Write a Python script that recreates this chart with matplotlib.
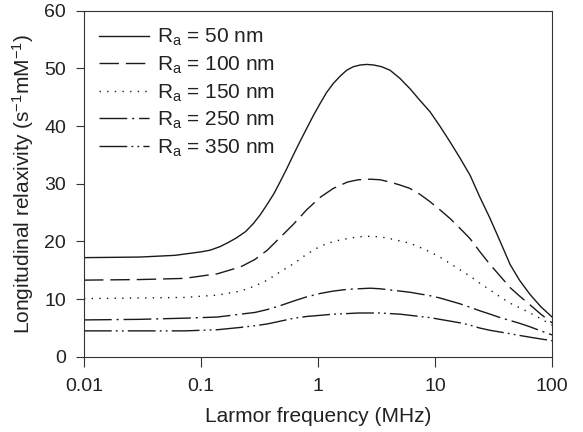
import matplotlib
matplotlib.use("Agg")
import matplotlib.pyplot as plt

# ================= DATA =================

f50 = [0.01, 0.03, 0.06, 0.1, 0.12, 0.145, 0.17, 0.2, 0.24, 0.28, 0.32,
       0.364, 0.42, 0.473, 0.54, 0.615, 0.7, 0.8, 0.91, 1.04, 1.18, 1.35,
       1.55, 1.76, 2.0, 2.29, 2.6, 3.0, 3.5, 4.12, 5.0, 6.1, 7.4, 9.05, 11,
       13.4, 16.3, 19.9, 24, 29.5, 36, 43.8, 53, 64.9, 80, 100]
r50 = [17.2, 17.3, 17.6, 18.2, 18.5, 19.1, 19.8, 20.6, 21.7, 23.1, 24.6,
       26.3, 28.3, 30.3, 32.6, 35.0, 37.3, 39.6, 41.8, 43.9, 45.8, 47.4,
       48.7, 49.7, 50.3, 50.6, 50.7, 50.6, 50.3, 49.7, 48.3, 46.5, 44.5,
       42.5, 40.0, 37.3, 34.5, 31.5, 27.8, 24.0, 20.0, 16.0, 13.2, 10.8,
       8.7, 6.9]

f_low = [0.01, 0.03, 0.072, 0.138, 0.218, 0.29, 0.369, 0.48, 0.624, 0.8,
         1.05, 1.35, 1.78, 2.2, 2.8, 3.4, 4.12, 5.0, 6.1, 7.4, 9.05, 11,
         13.4, 16.3, 19.9, 24, 29.5, 36, 43.8, 53, 64.9, 80, 100]
r100 = [13.3, 13.4, 13.6, 14.4, 15.6, 16.9, 18.5, 20.8, 23.1, 25.5,
        27.7, 29.2, 30.3, 30.7, 30.8, 30.7, 30.3, 29.8, 29.2, 28.2, 26.9,
        25.5, 24.0, 22.3, 20.5, 18.3, 16.0, 14.0, 12.0, 10.5, 9.0, 7.4, 5.9]
r150 = [10.1, 10.2, 10.3, 10.7, 11.4, 12.3, 13.3, 14.8, 16.2, 17.8,
        19.2, 20.0, 20.5, 20.8, 20.9, 20.8, 20.5, 20.1, 19.7, 19.0, 18.2,
        17.3, 16.2, 15.1, 14.0, 12.8, 11.6, 10.4, 9.3, 8.5, 7.6, 6.6, 5.5]
r250 = [6.4, 6.5, 6.7, 6.9, 7.4, 7.7, 8.2, 8.9, 9.7, 10.4,
        11.0, 11.4, 11.7, 11.8, 11.9, 11.8, 11.6, 11.4, 11.2, 10.9, 10.6,
        10.2, 9.7, 9.2, 8.6, 8.0, 7.4, 6.8, 6.3, 5.8, 5.2, 4.5, 3.8]
r350 = [4.5, 4.5, 4.5, 4.7, 5.1, 5.4, 5.7, 6.2, 6.7, 7.0,
        7.2, 7.4, 7.5, 7.6, 7.6, 7.6, 7.5, 7.4, 7.2, 7.0, 6.8,
        6.5, 6.2, 5.9, 5.5, 5.0, 4.6, 4.3, 4.0, 3.7, 3.4, 3.1, 2.8]

labels = ["R$_a$ = 50 nm", "R$_a$ = 100 nm", "R$_a$ = 150 nm",
          "R$_a$ = 250 nm", "R$_a$ = 350 nm"]

xticks = [0.01, 0.1, 1, 10, 100]
xticklabels = ["0.01", "0.1", "1", "10", "100"]
yticks = [0, 10, 20, 30, 40, 50, 60]

# ================= STYLE =================

plt.rcParams["font.family"] = ["Liberation Sans", "DejaVu Sans"]
plt.rcParams["mathtext.fontset"] = "custom"
plt.rcParams["mathtext.rm"] = "Liberation Sans"
plt.rcParams["mathtext.it"] = "Liberation Sans"
plt.rcParams["mathtext.default"] = "rm"

text_col = "#222222"
line_col = "#1a1a1a"

styles = [
    "-",
    (0, (14, 5)),
    (0, (1, 4.5)),
    (0, (20, 3.5, 1.5, 3.5)),
    (0, (20, 3, 1.3, 3, 1.3, 3)),
]

# ================= PLOT =================

fig = plt.figure(figsize=(5.83, 4.32), dpi=100)
ax = fig.add_axes([0.144, 0.174, 0.803, 0.801])

series = [(f50, r50), (f_low, r100), (f_low, r150), (f_low, r250), (f_low, r350)]
for (xs, ys), ls, lab in zip(series, styles, labels):
    ax.plot(xs, ys, color=line_col, linestyle=ls, linewidth=1.0, label=lab)

ax.set_xscale("log")
ax.set_xlim(0.01, 100)
ax.set_ylim(0, 60)
ax.set_xticks(xticks)
ax.set_xticklabels(xticklabels)
ax.set_yticks(yticks)
ax.minorticks_off()

ax.tick_params(direction="out", width=0.8, colors="#333333",
               labelsize=14, labelcolor=text_col)
ax.tick_params(axis="x", length=7, pad=8)
ax.tick_params(axis="y", length=6, pad=7)
for sp in ax.spines.values():
    sp.set_color("#333333")
    sp.set_linewidth(0.8)

ax.set_xlabel("Larmor frequency (MHz)", fontsize=15, color=text_col, labelpad=9)
ax.set_ylabel("Longitudinal relaxivity (s$^{-1}$mM$^{-1}$)", fontsize=15,
              color=text_col, labelpad=6)

leg = ax.legend(loc="upper left", frameon=False, fontsize=15,
                handlelength=2.4, handletextpad=0.4, labelspacing=0.3,
                borderaxespad=0.3, bbox_to_anchor=(0.0, 0.995))
for t in leg.get_texts():
    t.set_color(text_col)

fig.savefig("out.png", dpi=100)
